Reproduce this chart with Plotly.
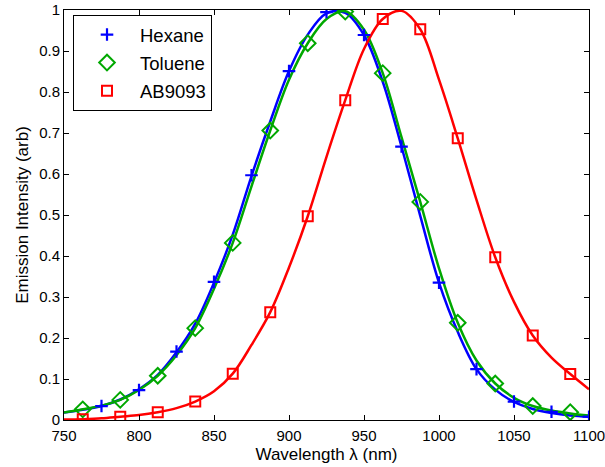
import plotly.graph_objects as go

# Marker data
hex_x = [775, 800, 825, 850, 875, 900, 925, 950, 975, 1000, 1025, 1050, 1075, 1100]
hex_y = [0.034, 0.073, 0.167, 0.337, 0.597, 0.851, 0.995, 0.939, 0.667, 0.335, 0.124, 0.045, 0.02, 0.008]

tol_x = [762.5, 787.5, 812.5, 837.5, 862.5, 887.5, 912.5, 937.5, 962.5, 987.5, 1012.5, 1037.5, 1062.5, 1087.5]
tol_y = [0.026, 0.049, 0.108, 0.224, 0.432, 0.706, 0.919, 0.996, 0.846, 0.532, 0.237, 0.089, 0.034, 0.019]

ab_x = [762.5, 787.5, 812.5, 837.5, 862.5, 887.5, 912.5, 937.5, 962.5, 987.5, 1012.5, 1037.5, 1062.5, 1087.5]
ab_y = [0.002, 0.008, 0.019, 0.045, 0.113, 0.263, 0.497, 0.78, 0.978, 0.953, 0.687, 0.397, 0.206, 0.112]

# Fitted curves
fit_x = [750, 762.5, 775, 787.5, 800, 812.5, 825, 837.5, 850, 862.5, 875, 887.5, 900, 912.5,
         925, 937.5, 950, 962.5, 975, 987.5, 1000, 1012.5, 1025, 1037.5, 1050, 1062.5, 1075, 1087.5, 1100]
hex_fit = [0.018, 0.025, 0.034, 0.05, 0.075, 0.11, 0.165, 0.235, 0.335, 0.452, 0.595, 0.728, 0.851, 0.94,
           0.992, 0.993, 0.939, 0.825, 0.667, 0.498, 0.335, 0.215, 0.124, 0.074, 0.044, 0.027, 0.017, 0.011, 0.008]
tol_fit = [0.018, 0.026, 0.035, 0.049, 0.073, 0.108, 0.158, 0.224, 0.32, 0.432, 0.57, 0.706, 0.83, 0.919,
           0.978, 0.997, 0.952, 0.846, 0.69, 0.532, 0.37, 0.237, 0.145, 0.089, 0.054, 0.034, 0.023, 0.016, 0.011]
ab_fit = [0.001, 0.002, 0.004, 0.008, 0.012, 0.019, 0.029, 0.045, 0.07, 0.113, 0.183, 0.263, 0.372, 0.497,
          0.642, 0.78, 0.905, 0.978, 0.998, 0.953, 0.83, 0.687, 0.537, 0.397, 0.288, 0.206, 0.152, 0.112, 0.075]

x_ticks = [750, 800, 850, 900, 950, 1000, 1050, 1100]
y_ticks = [0, 0.1, 0.2, 0.3, 0.4, 0.5, 0.6, 0.7, 0.8, 0.9, 1]
y_ticktext = ["0", "0.1", "0.2", "0.3", "0.4", "0.5", "0.6", "0.7", "0.8", "0.9", "1"]

BLUE = "#0000FF"
GREEN = "#00A800"
RED = "#FF0000"
FONT = "Liberation Sans, Arial, sans-serif"

fig = go.Figure()
for y, c in [(hex_fit, BLUE), (tol_fit, GREEN), (ab_fit, RED)]:
    fig.add_trace(go.Scatter(x=fit_x, y=y, mode="lines", line=dict(color=c, width=2.5, shape="spline", smoothing=1.0),
                             showlegend=False, hoverinfo="skip"))

fig.add_trace(go.Scatter(x=hex_x, y=hex_y, mode="markers", name="Hexane", legendgroup="a",
                         marker=dict(symbol="cross-thin", size=9, color=BLUE, line=dict(color=BLUE, width=2.2))))
fig.add_trace(go.Scatter(x=tol_x, y=tol_y, mode="markers", name="Toluene", legendgroup="b",
                         marker=dict(symbol="diamond-open", size=12, color=GREEN, line=dict(color=GREEN, width=2))))
fig.add_trace(go.Scatter(x=ab_x, y=ab_y, mode="markers", name="AB9093", legendgroup="c",
                         marker=dict(symbol="square-open", size=10, color=RED, line=dict(color=RED, width=2))))

axis_common = dict(showgrid=False, zeroline=False, showline=True, linecolor="black", linewidth=1,
                   ticks="inside", ticklen=5, tickcolor="black", mirror="ticks", automargin=False,
                   ticklabeloverflow="allow",
                   tickfont=dict(family=FONT, size=15, color="black"))

fig.update_xaxes(range=[750, 1100], tickvals=x_ticks, ticklabelstandoff=2,
                 title=dict(text="Wavelength λ (nm)", font=dict(family=FONT, size=17, color="black"), standoff=5),
                 **axis_common)
fig.update_yaxes(range=[0, 1], tickvals=y_ticks, ticktext=y_ticktext,
                 title=dict(text="Emission Intensity (arb)", font=dict(family=FONT, size=17, color="black"), standoff=6),
                 **axis_common)

fig.update_layout(
    width=605, height=467,
    margin=dict(l=64, r=16, t=10, b=47),
    paper_bgcolor="white", plot_bgcolor="white",
    font=dict(family=FONT, color="black"),
    legend=dict(x=0.01714, y=0.9878, xanchor="left", yanchor="top",
                borderwidth=1, bordercolor="black", bgcolor="white", traceorder="grouped",
                font=dict(size=18.5, color="black"), itemwidth=56, tracegroupgap=1),
)

fig.write_html("out.html", config={"displayModeBar": False},
               post_script="document.body.style.margin='0px';document.body.style.overflow='hidden';")
